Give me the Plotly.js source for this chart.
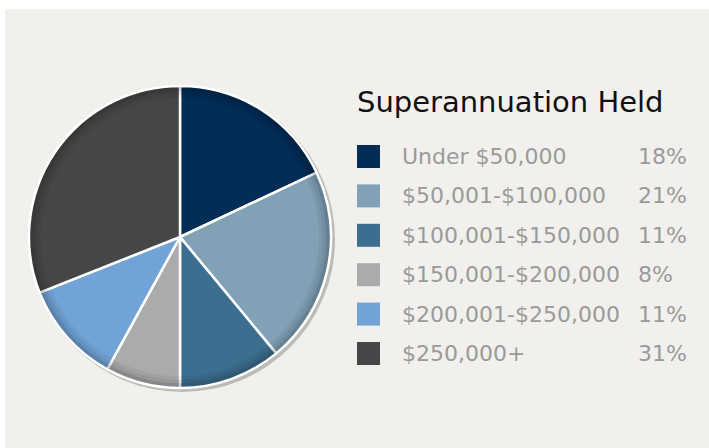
<!DOCTYPE html>
<html>
<head>
<meta charset="utf-8">
<script src="https://cdn.plot.ly/plotly-3.0.1.min.js"></script>
<style>html,body{margin:0;padding:0;background:#fff;}#chart{width:709px;height:448px;}</style>
</head>
<body>
<div id="chart"></div>
<script>
const categories = ["Under $50,000", "$50,001-$100,000", "$100,001-$150,000", "$150,001-$200,000", "$200,001-$250,000", "$250,000+"];
const shares = [18, 21, 11, 8, 11, 31];
const shareLabels = ["18%", "21%", "11%", "8%", "11%", "31%"];
const colors = ["#022d56", "#80a1b6", "#3c6e8f", "#aaabad", "#71a3d6", "#464648"];
const chartTitle = "Superannuation Held";

const W = 709, H = 448;
const px = x => x / W;
const py = y => 1 - y / H;

const cx = 180, cy = 237, R = 151;

const shapes = [{
  type: 'rect', xref: 'paper', yref: 'paper', layer: 'below',
  x0: px(5), x1: 1, y0: 0, y1: py(9),
  fillcolor: '#f1f0ec', line: {width: 0}
}, {
  // soft drop shadow behind the pie
  type: 'circle', xref: 'paper', yref: 'paper', layer: 'below',
  x0: px(cx - R + 1), x1: px(cx + R + 4), y0: py(cy + R + 4), y1: py(cy - R + 1),
  fillcolor: 'rgba(0,0,0,0.22)', line: {width: 0}
}];
// subtle bevel rings
const rings = [[3, 0.2], [6.5, 0.11], [10, 0.05]];
rings.forEach(([d, a]) => {
  shapes.push({
    type: 'circle', xref: 'paper', yref: 'paper', layer: 'above',
    x0: px(cx - R + d), x1: px(cx + R - d), y0: py(cy + R - d), y1: py(cy - R + d),
    fillcolor: 'rgba(0,0,0,0)', line: {color: 'rgba(0,0,0,' + a + ')', width: 3.5}
  });
});

const annotations = [{
  text: chartTitle, xref: 'paper', yref: 'paper', x: px(355), y: py(102),
  xanchor: 'left', yanchor: 'middle', showarrow: false,
  font: {family: 'DejaVu Sans', size: 29, color: '#111111'}
}];

const rowY0 = 156.5, rowStep = 39.4;
categories.forEach((c, i) => {
  const y = rowY0 + i * rowStep;
  shapes.push({
    type: 'rect', xref: 'paper', yref: 'paper',
    x0: px(357), x1: px(380), y0: py(y + 11.5), y1: py(y - 11.5),
    fillcolor: colors[i], line: {width: 0}
  });
  annotations.push({
    text: c, xref: 'paper', yref: 'paper', x: px(400), y: py(y),
    xanchor: 'left', yanchor: 'middle', showarrow: false,
    font: {family: 'DejaVu Sans', size: 22, color: '#9a9a9a'}
  });
  annotations.push({
    text: shareLabels[i], xref: 'paper', yref: 'paper', x: px(636), y: py(y),
    xanchor: 'left', yanchor: 'middle', showarrow: false,
    font: {family: 'DejaVu Sans', size: 22, color: '#9a9a9a'}
  });
});

const data = [{
  type: 'pie',
  labels: categories,
  values: shares,
  sort: false,
  direction: 'clockwise',
  rotation: 0,
  textinfo: 'none',
  hoverinfo: 'label+percent',
  showlegend: false,
  marker: {colors: colors, line: {color: '#ffffff', width: 2.5}},
  domain: {x: [px(cx - R), px(cx + R)], y: [py(cy + R), py(cy - R)]}
}];

const layout = {
  width: W, height: H,
  margin: {l: 0, r: 0, t: 0, b: 0},
  paper_bgcolor: '#ffffff',
  plot_bgcolor: 'rgba(0,0,0,0)',
  showlegend: false,
  shapes: shapes,
  annotations: annotations
};

Plotly.newPlot('chart', data, layout, {displayModeBar: false, staticPlot: true});
</script>
</body>
</html>
